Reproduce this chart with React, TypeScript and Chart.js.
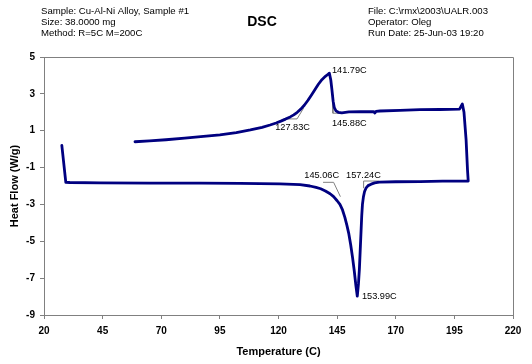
import React, { useEffect, useRef } from "react";
import { Chart, registerables } from "chart.js";

Chart.register(...registerables);

// Heating run (temperature C, heat flow W/g), in order of acquisition
const heatingTemp = [58.8, 65, 72, 80, 88, 95, 102, 108, 113, 116.4, 119, 121, 123, 125, 126.5, 128, 129.5, 131, 132.5, 134, 135.5, 137, 138.5, 140, 141, 141.7, 142.3, 142.8, 143.3, 143.8, 144.5, 145.5, 147, 150, 154.8, 158, 160.5, 161.1, 161.6, 163.3, 171.8, 180.3, 188.9, 197.2, 198.4, 199.1, 200.0, 200.6, 200.9];
const heatingFlow = [0.4, 0.45, 0.51, 0.6, 0.69, 0.78, 0.9, 1.04, 1.18, 1.31, 1.42, 1.52, 1.63, 1.75, 1.86, 2.0, 2.17, 2.38, 2.64, 2.93, 3.22, 3.52, 3.77, 3.95, 4.05, 4.12, 3.75, 3.2, 2.6, 2.25, 2.08, 2.0, 1.97, 2.02, 2.04, 2.03, 2.04, 1.96, 2.05, 2.07, 2.1, 2.14, 2.15, 2.17, 2.45, 2.0, 0.5, -1.13, -1.73];

// Cooling run, from 200 C back down
const coolingTemp = [190, 180.3, 170, 163, 161, 159.5, 158.2, 157.3, 156.7, 156.2, 155.8, 155.5, 155.1, 154.5, 154.1, 153.6, 153, 152.3, 151.6, 150.8, 150, 149.2, 148.3, 147.3, 146.2, 145, 143.5, 142, 140, 138, 136, 133.4, 129.2, 120.6, 103.6, 86.5, 65, 44, 31, 29.3, 27.6];
const coolingFlow = [-1.74, -1.76, -1.77, -1.79, -1.83, -1.9, -1.98, -2.12, -2.3, -2.6, -3.0, -3.6, -4.75, -6.5, -7.3, -7.98, -7.4, -6.6, -5.9, -5.2, -4.6, -4.15, -3.7, -3.3, -3.0, -2.8, -2.58, -2.42, -2.27, -2.15, -2.07, -2.0, -1.92, -1.89, -1.86, -1.84, -1.84, -1.83, -1.81, -1.8, 0.2];

// Tangent construction lines (onset / endset)
const heatOnsetTemp = [122.2, 127.9, 130.7];
const heatOnsetFlow = [1.64, 1.64, 2.22];
const heatEndTemp = [143.2, 143.2, 146.1];
const heatEndFlow = [2.94, 1.95, 1.95];
const coolOnsetTemp = [139.0, 143.5, 146.4];
const coolOnsetFlow = [-1.8, -1.8, -2.58];
const coolEndTemp = [156.3, 156.3, 162.7];
const coolEndFlow = [-2.12, -1.73, -1.73];

// Annotation labels (left edge anchored at temp/flow)
const labelTexts = ["141.79C", "127.83C", "145.88C", "145.06C", "157.24C", "153.99C"];
const labelTemps = [142.8, 118.6, 142.8, 131.0, 148.8, 155.6];
const labelFlows = [4.29, 1.16, 1.4, -1.44, -1.44, -8.02];

// Axis ticks
const xMin = 20, xMax = 220, xStep = 25;
const yMin = -9, yMax = 5, yStep = 2;

const headerLeft = ["Sample: Cu-Al-Ni Alloy, Sample #1", "Size: 38.0000 mg", "Method: R=5C M=200C"];
const headerRight = ["File: C:\\rmx\\2003\\UALR.003", "Operator: Oleg", "Run Date: 25-Jun-03 19:20"];
const chartTitle = "DSC";

const FONT = "'Liberation Sans', Arial, sans-serif";

function pts(xs: number[], ys: number[]) {
  return xs.map((x, i) => ({ x, y: ys[i] }));
}

export default function App() {
  const ref = useRef<HTMLCanvasElement | null>(null);
  useEffect(() => {
    if (!ref.current) return;
    const textPlugin = {
      id: "dscText",
      afterDraw(chart: any) {
        const ctx = chart.ctx;
        const { left, top, right, bottom } = chart.chartArea;
        ctx.save();
        // frame top / right
        ctx.strokeStyle = "#808080";
        ctx.lineWidth = 1;
        ctx.beginPath();
        ctx.moveTo(left, top + 0.5);
        ctx.lineTo(right + 0.5, top + 0.5);
        ctx.lineTo(right + 0.5, bottom);
        ctx.stroke();
        // header
        ctx.fillStyle = "#000";
        ctx.textBaseline = "middle";
        ctx.textAlign = "left";
        ctx.font = `9.6px ${FONT}`;
        headerLeft.forEach((t, i) => ctx.fillText(t, 41, 11 + i * 11));
        headerRight.forEach((t, i) => ctx.fillText(t, 368, 11 + i * 11));
        ctx.font = `bold 14px ${FONT}`;
        ctx.textAlign = "center";
        ctx.fillText(chartTitle, 262, 22);
        // annotations
        const xs = chart.scales.x, ys = chart.scales.y;
        ctx.font = `9.2px ${FONT}`;
        ctx.textAlign = "left";
        labelTexts.forEach((t, i) => {
          ctx.fillText(t, xs.getPixelForValue(labelTemps[i]), ys.getPixelForValue(labelFlows[i]));
        });
        ctx.restore();
      },
    };
    const tangent = (xs: number[], ys: number[]) => ({
      data: pts(xs, ys),
      showLine: true,
      borderColor: "#808080",
      borderWidth: 1,
      pointRadius: 0,
      tension: 0,
    });
    const chart = new Chart(ref.current, {
      type: "scatter",
      data: {
        datasets: [
          {
            data: [...pts(heatingTemp, heatingFlow), ...pts(coolingTemp, coolingFlow)],
            showLine: true,
            borderColor: "#000080",
            borderWidth: 2.8,
            pointRadius: 0,
            tension: 0,
            borderJoinStyle: "round",
            borderCapStyle: "round",
          } as any,
          tangent(heatOnsetTemp, heatOnsetFlow),
          tangent(heatEndTemp, heatEndFlow),
          tangent(coolOnsetTemp, coolOnsetFlow),
          tangent(coolEndTemp, coolEndFlow),
        ],
      },
      options: {
        responsive: false,
        animation: false,
        layout: { padding: { left: 0, top: 57, right: 19, bottom: 0 } },
        plugins: { legend: { display: false }, tooltip: { enabled: false } },
        scales: {
          x: {
            type: "linear",
            min: xMin,
            max: xMax,
            afterFit: (s: any) => { s.height = 49; },
            ticks: { stepSize: xStep, color: "#000", padding: 6, font: { family: FONT, size: 10, weight: "bold" } },
            grid: { drawOnChartArea: false, drawTicks: true, tickLength: 4, color: "#808080" },
            border: { color: "#808080", width: 1 },
            title: { display: true, text: "Temperature (C)", color: "#000", font: { family: FONT, size: 11, weight: "bold" }, padding: { top: 0, bottom: 5.4 } },
          },
          y: {
            type: "linear",
            min: yMin,
            max: yMax,
            afterFit: (s: any) => { s.width = 44; },
            ticks: { stepSize: yStep, color: "#000", padding: 5, font: { family: FONT, size: 10, weight: "bold" } },
            grid: { drawOnChartArea: false, drawTicks: true, tickLength: 4, color: "#808080" },
            border: { color: "#808080", width: 1 },
            title: { display: true, text: "Heat Flow (W/g)", color: "#000", font: { family: FONT, size: 11, weight: "bold" }, padding: { top: 8, bottom: 0 } },
          },
        },
      } as any,
      plugins: [textPlugin],
    });
    return () => chart.destroy();
  }, []);
  return (
    <div style={{ position: "absolute", left: 0, top: 0, width: 532, height: 364, background: "#fff" }}>
      <canvas ref={ref} width={532} height={364} />
    </div>
  );
}
